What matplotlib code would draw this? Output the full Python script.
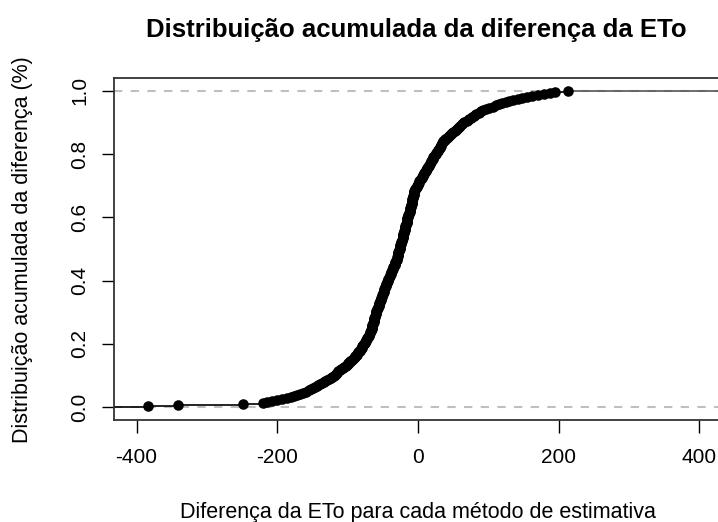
import matplotlib
matplotlib.use("Agg")
import matplotlib.pyplot as plt
import numpy as np

# Sorted differences of ETo
diferencas = [
    -384, -341, -249, -220, -214, -207, -200, -193, -186, -180,
    -176, -172, -168, -163, -159, -155, -152, -149, -147, -144,
    -142, -139, -137, -134, -132, -129, -127, -124, -122, -120,
    -118, -116, -115, -113, -111, -109, -107, -105, -103, -101,
    -100, -99, -97, -96, -94, -93, -91, -90, -89, -87,
    -86, -85, -83, -82, -81, -80, -79, -79, -78, -77,
    -76, -75, -74, -74, -73, -72, -71, -70, -69, -68,
    -68, -67, -67, -66, -66, -66, -65, -65, -64, -64,
    -63, -63, -62, -62, -62, -61, -61, -60, -60, -59,
    -59, -58, -58, -57, -57, -56, -56, -55, -55, -54,
    -54, -53, -53, -52, -51, -51, -50, -50, -49, -49,
    -48, -48, -47, -47, -46, -45, -45, -44, -44, -43,
    -42, -42, -41, -40, -40, -39, -39, -38, -37, -37,
    -36, -35, -35, -34, -33, -33, -32, -32, -31, -30,
    -30, -30, -29, -29, -28, -28, -28, -27, -27, -26,
    -26, -26, -25, -25, -24, -24, -24, -23, -23, -22,
    -22, -22, -21, -21, -20, -20, -20, -19, -19, -18,
    -18, -18, -17, -17, -16, -16, -16, -15, -15, -14,
    -14, -14, -13, -13, -12, -12, -12, -11, -11, -10,
    -10, -10, -9, -9, -8, -8, -8, -7, -7, -7,
    -6, -6, -5, -5, -5, -4, -4, -3, -2, -1,
    0, 0, 1, 2, 3, 4, 5, 6, 7, 7,
    8, 9, 10, 11, 12, 13, 13, 14, 15, 16,
    17, 18, 19, 20, 21, 21, 22, 23, 24, 25,
    26, 27, 28, 29, 30, 31, 31, 32, 33, 34,
    35, 36, 38, 39, 41, 42, 44, 46, 47, 49,
    50, 52, 54, 55, 57, 58, 60, 62, 64, 66,
    69, 71, 73, 75, 77, 79, 81, 83, 86, 88,
    90, 92, 97, 101, 106, 111, 115, 120, 125, 129,
    135, 142, 148, 155, 162, 170, 179, 187, 195, 213,
]

x_ticks = [-400, -200, 0, 200, 400]
y_ticks = [0.0, 0.2, 0.4, 0.6, 0.8, 1.0]
y_ticklabels = ["0.0", "0.2", "0.4", "0.6", "0.8", "1.0"]

plt.rcParams['font.family'] = ['Liberation Sans', 'DejaVu Sans']

fig = plt.figure(figsize=(7.18, 5.22), dpi=100)
W, H = 718, 522
left, right, top, bottom = 114, 722, 78, 420
ax = fig.add_axes([left / W, 1 - bottom / H, (right - left) / W, (bottom - top) / H])

x = np.array(diferencas, dtype=float)
n = len(x)
y = np.arange(1, n + 1) / n

xmin, xmax = -432, 432
ax.set_xlim(xmin, xmax)
ax.set_ylim(-0.04, 1.04)

# reference dashed lines
for h in (0, 1):
    ax.axhline(h, color='#BFBFBF', lw=1.5, dashes=(4, 4), zorder=1)

# step segments
ax.hlines(0, xmin, x[0], color='black', lw=1.2, zorder=2)
ax.hlines(y[:-1], x[:-1], x[1:], color='black', lw=1.2, zorder=2)
ax.hlines(1, x[-1], xmax, color='#555555', lw=1.2, zorder=2)
ax.plot(x, y, 'o', color='black', ms=7.6, mew=0, zorder=3)

ax.set_xticks(x_ticks)
ax.set_xticklabels([str(v) for v in x_ticks])
ax.set_yticks(y_ticks)
ax.set_yticklabels(y_ticklabels, rotation=90, va='center')
ax.tick_params(axis='both', direction='out', length=9, width=1, labelsize=15, pad=9, colors='black')
ax.tick_params(axis='x', pad=11)

for s in ax.spines.values():
    s.set_linewidth(1.3)
    s.set_color('#333333')

fig.text(416.5 / W, 1 - 37 / H, "Distribuição acumulada da diferença da ETo",
         ha='center', va='baseline', fontsize=18.5, fontweight='bold')
fig.text(417.5 / W, 1 - 518 / H, "Diferença da ETo para cada método de estimativa",
         ha='center', va='baseline', fontsize=15.5)
fig.text(23 / W, 1 - 250 / H, "Distribuição acumulada da diferença (%)",
         ha='center', va='center', fontsize=15.5, rotation=90)

fig.savefig("out.png", dpi=100)
